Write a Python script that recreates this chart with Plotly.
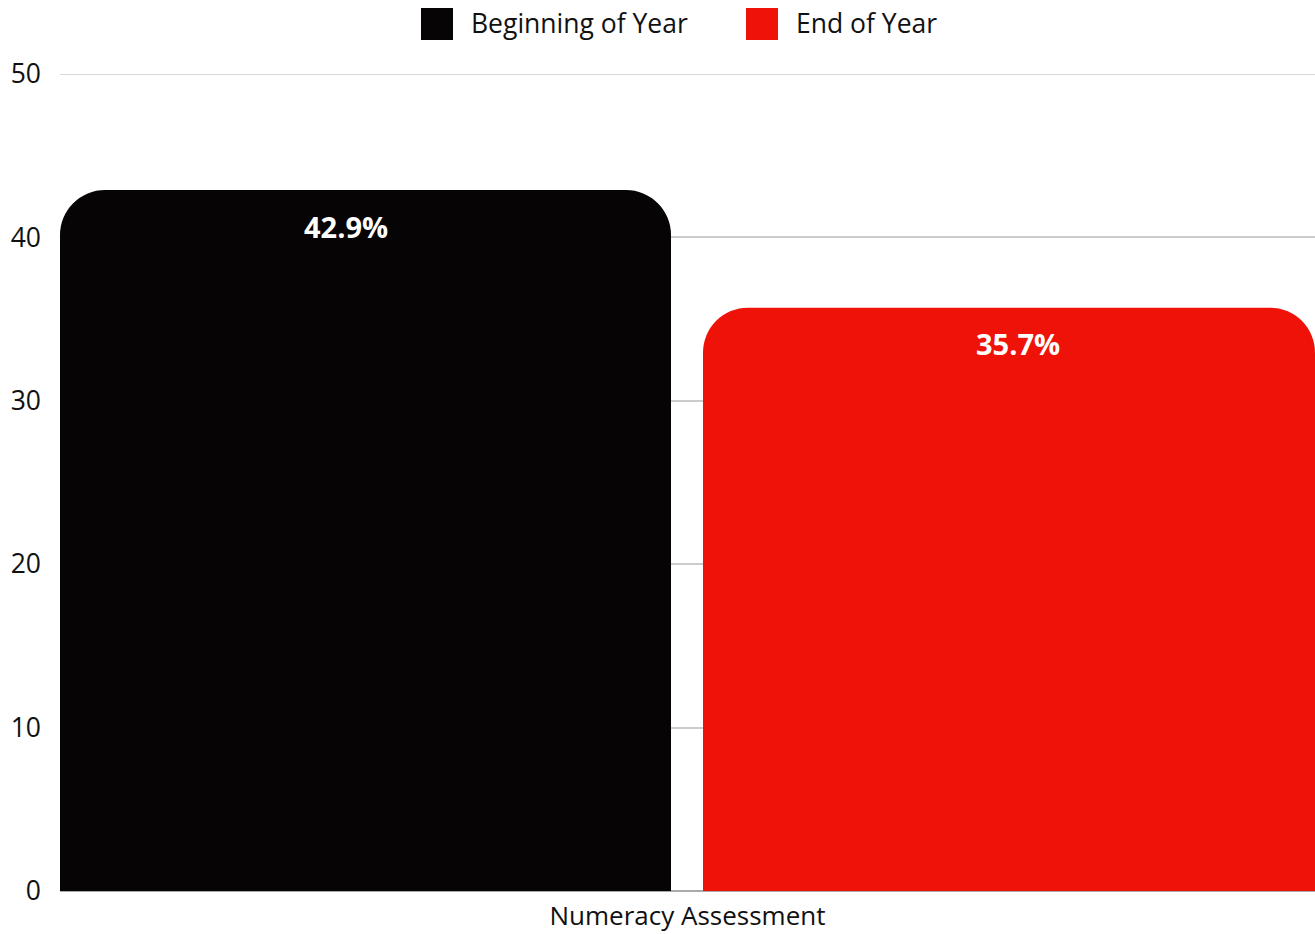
import plotly.graph_objects as go

categories = ["Numeracy Assessment"]
series_names = ["Beginning of Year", "End of Year"]
beginning_values = [42.9]
end_values = [35.7]
series_colors = ["#060405", "#ef1209"]

W, H = 1315, 934
L, R, T, B = 60, 0, 74, 43
plot_w = W - L - R
plot_h = H - T - B

def px_x(px):
    return (px - L) / plot_w

def px_y(py):
    return (H - B - py) / plot_h

fig = go.Figure()
offsets = [-0.5, (703 - L) / plot_w - 0.5]
widths = [611 / plot_w, 612 / plot_w]
label_x = [px_x(346) - 0.5, px_x(1018) - 0.5]
annotations = []
for name, vals, color, off, wd, lx in zip(series_names, [beginning_values, end_values],
                                          series_colors, offsets, widths, label_x):
    fig.add_trace(go.Bar(
        x=categories, y=vals, name=name,
        marker=dict(color=color, line=dict(width=0)),
        offset=off, width=wd, showlegend=False, hoverinfo="y",
    ))
    for v in vals:
        annotations.append(dict(x=lx, y=v, xref="x", yref="y", yshift=-36,
                                xanchor="center", yanchor="middle", showarrow=False,
                                text=f"<b>{v:.1f}%</b>",
                                font=dict(family="Open Sans", size=29, color="white")))

# custom legend
shapes = [dict(type="line", xref="paper", yref="y", x0=0, x1=1, y0=50, y1=50,
               line=dict(color="#cccccc", width=1.5), layer="below")]
leg = [(421, 469), (746, 794)]
for (sx, tx), name, color in zip(leg, series_names, series_colors):
    shapes.append(dict(type="rect", xref="paper", yref="paper",
                       x0=px_x(sx), x1=px_x(sx + 32), y0=px_y(40), y1=px_y(8),
                       fillcolor=color, line=dict(width=0), layer="above"))
    annotations.append(dict(xref="paper", yref="paper", x=px_x(tx), y=px_y(23),
                            xanchor="left", yanchor="middle", showarrow=False,
                            text=name, font=dict(family="Open Sans", size=26.5, color="#111")))

fig.update_layout(
    width=W, height=H,
    margin=dict(l=L, r=R, t=T, b=B, pad=0),
    paper_bgcolor="white", plot_bgcolor="white",
    barmode="overlay", barcornerradius=45,
    font=dict(family="Open Sans", size=26.5, color="#111"),
    shapes=shapes, annotations=annotations,
    showlegend=False,
)
fig.update_yaxes(range=[0, 50], dtick=10, showgrid=True, gridcolor="#cccccc", gridwidth=1.5,
                 zeroline=True, zerolinecolor="#aaaaaa", zerolinewidth=1.5,
                 ticks="", ticklabelstandoff=18, tickfont=dict(size=26.5, color="#111"),
                 showline=False, automargin=False)
fig.update_xaxes(range=[-0.5, 0.5], ticks="", showgrid=False, showline=False,
                 tickfont=dict(size=26, color="#111"), ticklabelstandoff=7,
                 automargin=False)

fig.write_html("out.html")
